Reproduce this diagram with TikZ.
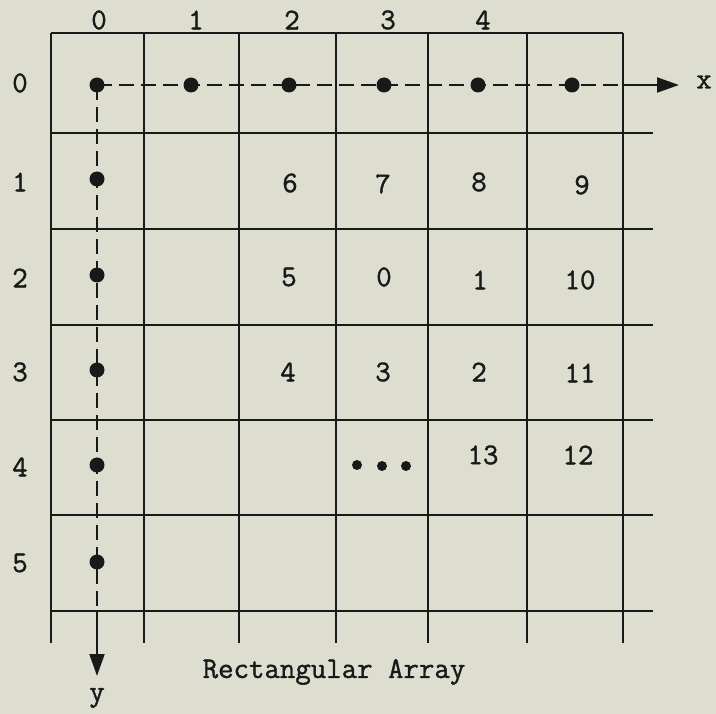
\documentclass[tikz,border=0pt]{standalone}
\usepackage{fontspec}
\setmonofont[FakeBold=1.3]{Latin Modern Mono}
\usetikzlibrary{arrows.meta}
\definecolor{paper}{RGB}{221,222,207}
\definecolor{ink}{RGB}{25,25,25}
\begin{document}
\begin{tikzpicture}[x=1pt,y=-1pt,
  gridline/.style={draw=ink,line width=2.2pt},
  axisdash/.style={draw=ink,line width=2pt,dash pattern=on 15pt off 7pt},
  axissolid/.style={draw=ink,line width=2pt,-{Triangle[length=22pt,width=15pt]}},
  dotnode/.style={circle,fill=ink,inner sep=0pt,minimum size=15pt},
  smalldot/.style={circle,fill=ink,inner sep=0pt,minimum size=10pt},
  lbl/.style={font=\fontsize{30}{33}\selectfont\ttfamily,text=ink,inner sep=0pt},
  title/.style={font=\fontsize{30}{33}\selectfont\ttfamily,text=ink,inner sep=0pt}]
\fill[paper] (0,0) rectangle (716,714);
\useasboundingbox (0,0) rectangle (716,714);
% grid
\draw[gridline] (51,33) -- (623,33);
\foreach \yy in {133,229,325,420,515,611} \draw[gridline] (51,\yy) -- (653,\yy);
\foreach \xx in {51,144,239,336,428,527,623} \draw[gridline] (\xx,33) -- (\xx,643);
% column labels
\node[lbl] (c0) at (99,20) {0};
\node[lbl] (c1) at (196,20) {1};
\node[lbl] (c2) at (292,20) {2};
\node[lbl] (c3) at (388,20) {3};
\node[lbl] (c4) at (483,20) {4};
% row labels
\node[lbl] (r0) at (20,83) {0};
\node[lbl] (r1) at (20,182) {1};
\node[lbl] (r2) at (20,278) {2};
\node[lbl] (r3) at (20,372) {3};
\node[lbl] (r4) at (20,467) {4};
\node[lbl] (r5) at (20,563) {5};
% axis dots
\node[dotnode] (d0) at (97,85) {};
\node[dotnode] (x1) at (191,85) {};
\node[dotnode] (x2) at (289,85) {};
\node[dotnode] (x3) at (384,85) {};
\node[dotnode] (x4) at (478,85) {};
\node[dotnode] (x5) at (572,85) {};
\node[dotnode] (y1) at (97,179) {};
\node[dotnode] (y2) at (97,275) {};
\node[dotnode] (y3) at (97,370) {};
\node[dotnode] (y4) at (97,465) {};
\node[dotnode] (y5) at (97,562) {};
\coordinate (xend) at (623,85);
\coordinate (yend) at (97,612);
\coordinate (xtip) at (679,85);
\coordinate (ytip) at (97,676);
\draw[axisdash] (d0.center) -- (xend);
\draw[axisdash] (d0.center) -- (yend);
\draw[axissolid] (xend) -- (xtip);
\draw[axissolid] (yend) -- (ytip);
\node[lbl] (xl) at (704,82) {x};
\node[lbl] (yl) at (97,698) {y};
% cell numbers
\node[lbl] (n6) at (290,183) {6};
\node[lbl] (n7) at (383,184) {7};
\node[lbl] (n8) at (479,182) {8};
\node[lbl] (n9) at (582,185) {9};
\node[lbl] (n5) at (289,277) {5};
\node[lbl] (n0) at (384,277) {0};
\node[lbl] (n1) at (480,280) {1};
\node[lbl] (n10) at (580,280) {10};
\node[lbl] (n4) at (288,372) {4};
\node[lbl] (n3) at (383,372) {3};
\node[lbl] (n2) at (479,372) {2};
\node[lbl] (n11) at (580,373) {11};
\node[smalldot] (e1) at (357,465) {};
\node[smalldot] (e2) at (382,466) {};
\node[smalldot] (e3) at (406,466) {};
\node[lbl] (n13) at (483,455) {13};
\node[lbl] (n12) at (578,455) {12};
% caption
\node[title] (cap) at (334,672) {Rectangular Array};
\end{tikzpicture}
\end{document}
